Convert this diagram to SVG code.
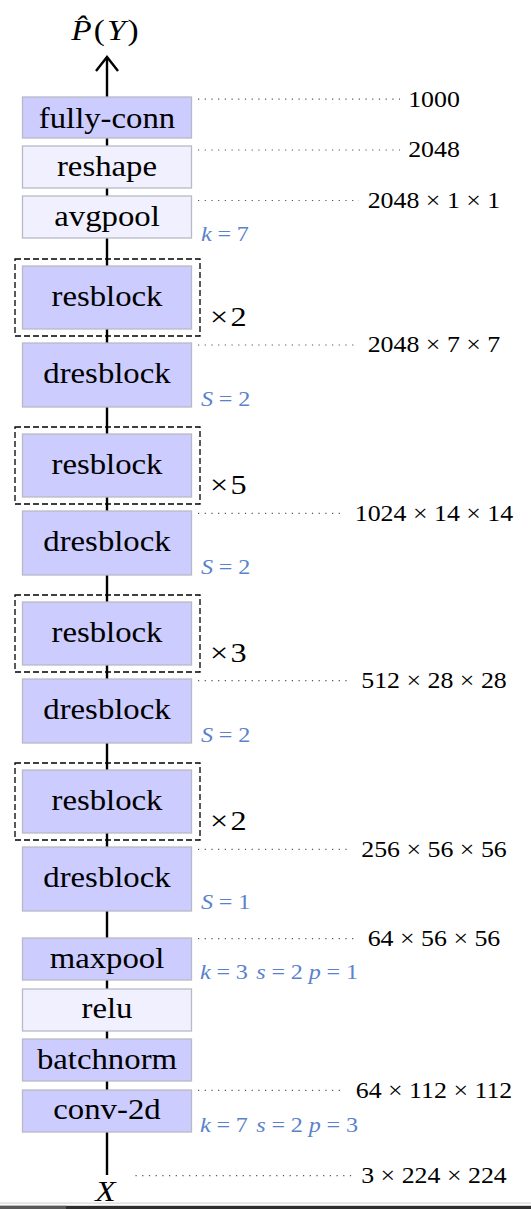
<svg xmlns="http://www.w3.org/2000/svg" width="531" height="1209" viewBox="0 0 531 1209">
<style>
text{font-family:"Liberation Serif","Times New Roman",serif;fill:#000}
.lbl{font-size:28.5px;text-anchor:middle}
.num{font-size:22.5px;text-anchor:middle}
.mul{font-size:28px}
.blue{font-size:21px;fill:#5a82cc}
.it{font-style:italic}
.dark{fill:#ccccff;stroke:#b9b9c6;stroke-width:1.3}
.light{fill:#f0f0fe;stroke:#b9b9c6;stroke-width:1.3}
.dash{fill:none;stroke:#000;stroke-width:1.3;stroke-dasharray:6 3}
.dot{fill:none;stroke:#555;stroke-width:1.2;stroke-dasharray:1.2 5.5}
.main{fill:none;stroke:#000;stroke-width:2.4}
.head{fill:none;stroke:#000;stroke-width:2.4}
</style>

<g id="connectors">
<path class="main" d="M107,1175 L107,57"/>
<path class="head" d="M96,71 L107,57 L118,71"/>
<line class="dot" x1="198" y1="99.2" x2="400" y2="99.2"/>
<line class="dot" x1="198" y1="150" x2="400" y2="150"/>
<line class="dot" x1="198" y1="200.5" x2="359" y2="200.5"/>
<line class="dot" x1="198" y1="345" x2="358" y2="345"/>
<line class="dot" x1="198" y1="513.3" x2="342" y2="513.3"/>
<line class="dot" x1="198" y1="680.7" x2="350" y2="680.7"/>
<line class="dot" x1="198" y1="849.3" x2="350" y2="849.3"/>
<line class="dot" x1="198" y1="938.6" x2="358" y2="938.6"/>
<line class="dot" x1="198" y1="1090.3" x2="342" y2="1090.3"/>
<line class="dot" x1="135.5" y1="1175.7" x2="352" y2="1175.7"/>
</g>

<g id="output">
<text transform="scale(1.15 1)" x="62" y="40.5" style="font-size:29px;letter-spacing:1.8px"><tspan class="it">P̂</tspan>(<tspan class="it">Y</tspan>)</text>
</g>

<g id="fully-conn">
<rect class="dark" x="22.5" y="97" width="169" height="41"/>
<text class="lbl" transform="scale(1.15 1)" x="93.04" y="128">fully-conn</text>
<text class="num" transform="scale(1.15 1)" x="377.39" y="106.7">1000</text>
</g>
<g id="reshape">
<rect class="light" x="22.5" y="146" width="169" height="42"/>
<text class="lbl" transform="scale(1.15 1)" x="93.04" y="176.5">reshape</text>
<text class="num" transform="scale(1.15 1)" x="377.39" y="157.5">2048</text>
</g>
<g id="avgpool">
<rect class="light" x="22.5" y="196" width="169" height="42"/>
<text class="lbl" transform="scale(1.15 1)" x="93.04" y="226.5">avgpool</text>
<text class="num" transform="scale(1.15 1)" x="377.39" y="208">2048 × 1 × 1</text>
<text class="blue" transform="scale(1.15 1)" x="174.78" y="241.5"><tspan class="it">k</tspan><tspan dx="5">=</tspan><tspan dx="5">7</tspan></text>
</g>

<g id="resblock-4">
<rect class="dash" x="15" y="259" width="185" height="77"/>
<rect class="dark" x="22.5" y="266" width="169" height="63"/>
<text class="lbl" transform="scale(1.15 1)" x="93.04" y="306">resblock</text>
<text class="mul" transform="scale(1.15 1)" x="182.61" y="326">×<tspan dx="2">2</tspan></text>
</g>
<g id="dresblock-4">
<rect class="dark" x="22.5" y="343" width="169" height="64"/>
<text class="lbl" transform="scale(1.15 1)" x="93.04" y="383.5">dresblock</text>
<text class="num" transform="scale(1.15 1)" x="377.39" y="352.5">2048 × 7 × 7</text>
<text class="blue" transform="scale(1.15 1)" x="174.78" y="405.7"><tspan class="it">S</tspan><tspan dx="5">=</tspan><tspan dx="5">2</tspan></text>
</g>

<g id="resblock-3">
<rect class="dash" x="15" y="427" width="185" height="77"/>
<rect class="dark" x="22.5" y="434" width="169" height="63"/>
<text class="lbl" transform="scale(1.15 1)" x="93.04" y="474">resblock</text>
<text class="mul" transform="scale(1.15 1)" x="182.61" y="494">×<tspan dx="2">5</tspan></text>
</g>
<g id="dresblock-3">
<rect class="dark" x="22.5" y="511" width="169" height="64"/>
<text class="lbl" transform="scale(1.15 1)" x="93.04" y="551.5">dresblock</text>
<text class="num" transform="scale(1.15 1)" x="377.39" y="520.8">1024 × 14 × 14</text>
<text class="blue" transform="scale(1.15 1)" x="174.78" y="573.7"><tspan class="it">S</tspan><tspan dx="5">=</tspan><tspan dx="5">2</tspan></text>
</g>

<g id="resblock-2">
<rect class="dash" x="15" y="595" width="185" height="77"/>
<rect class="dark" x="22.5" y="602" width="169" height="63"/>
<text class="lbl" transform="scale(1.15 1)" x="93.04" y="642">resblock</text>
<text class="mul" transform="scale(1.15 1)" x="182.61" y="662">×<tspan dx="2">3</tspan></text>
</g>
<g id="dresblock-2">
<rect class="dark" x="22.5" y="679" width="169" height="64"/>
<text class="lbl" transform="scale(1.15 1)" x="93.04" y="719.5">dresblock</text>
<text class="num" transform="scale(1.15 1)" x="377.39" y="688.2">512 × 28 × 28</text>
<text class="blue" transform="scale(1.15 1)" x="174.78" y="741.7"><tspan class="it">S</tspan><tspan dx="5">=</tspan><tspan dx="5">2</tspan></text>
</g>

<g id="resblock-1">
<rect class="dash" x="15" y="763" width="185" height="77"/>
<rect class="dark" x="22.5" y="770" width="169" height="63"/>
<text class="lbl" transform="scale(1.15 1)" x="93.04" y="810">resblock</text>
<text class="mul" transform="scale(1.15 1)" x="182.61" y="830">×<tspan dx="2">2</tspan></text>
</g>
<g id="dresblock-1">
<rect class="dark" x="22.5" y="847" width="169" height="64"/>
<text class="lbl" transform="scale(1.15 1)" x="93.04" y="887.5">dresblock</text>
<text class="num" transform="scale(1.15 1)" x="377.39" y="856.8">256 × 56 × 56</text>
<text class="blue" transform="scale(1.15 1)" x="174.78" y="909.2"><tspan class="it">S</tspan><tspan dx="5">=</tspan><tspan dx="5">1</tspan></text>
</g>

<g id="maxpool">
<rect class="dark" x="22.5" y="938" width="169" height="42"/>
<text class="lbl" transform="scale(1.15 1)" x="93.04" y="968.5">maxpool</text>
<text class="num" transform="scale(1.15 1)" x="377.39" y="946.1">64 × 56 × 56</text>
<text class="blue" transform="scale(1.15 1)" y="979"><tspan x="173.9" class="it">k</tspan><tspan dx="5">=</tspan><tspan dx="5">3</tspan><tspan x="222.9" class="it">s</tspan><tspan dx="5">=</tspan><tspan dx="5">2</tspan><tspan x="268.5" class="it">p</tspan><tspan dx="5">=</tspan><tspan dx="5">1</tspan></text>
</g>
<g id="relu">
<rect class="light" x="22.5" y="989" width="169" height="42"/>
<text class="lbl" transform="scale(1.15 1)" x="93.04" y="1018.5">relu</text>
</g>
<g id="batchnorm">
<rect class="dark" x="22.5" y="1039" width="169" height="42"/>
<text class="lbl" transform="scale(1.15 1)" x="93.04" y="1069">batchnorm</text>
</g>
<g id="conv-2d">
<rect class="dark" x="22.5" y="1090" width="169" height="42"/>
<text class="lbl" transform="scale(1.15 1)" x="93.04" y="1119.5">conv-2d</text>
<text class="num" transform="scale(1.15 1)" x="377.39" y="1097.8">64 × 112 × 112</text>
<text class="blue" transform="scale(1.15 1)" y="1131.6"><tspan x="173.9" class="it">k</tspan><tspan dx="5">=</tspan><tspan dx="5">7</tspan><tspan x="222.9" class="it">s</tspan><tspan dx="5">=</tspan><tspan dx="5">2</tspan><tspan x="268.5" class="it">p</tspan><tspan dx="5">=</tspan><tspan dx="5">3</tspan></text>
</g>

<g id="input">
<text class="it" transform="scale(1.15 1)" x="91.6" y="1201" style="font-size:29px;text-anchor:middle">X</text>
<text class="num" transform="scale(1.15 1)" x="377.39" y="1183.2">3 × 224 × 224</text>
</g>

<rect x="0" y="1202.5" width="531" height="1.2" fill="#d8d8d8"/>
<rect x="0" y="1205.8" width="531" height="3.2" fill="#2e2e2e"/>
<rect x="0" y="1205.8" width="66" height="3.2" fill="#5a5a5a"/>
</svg>
